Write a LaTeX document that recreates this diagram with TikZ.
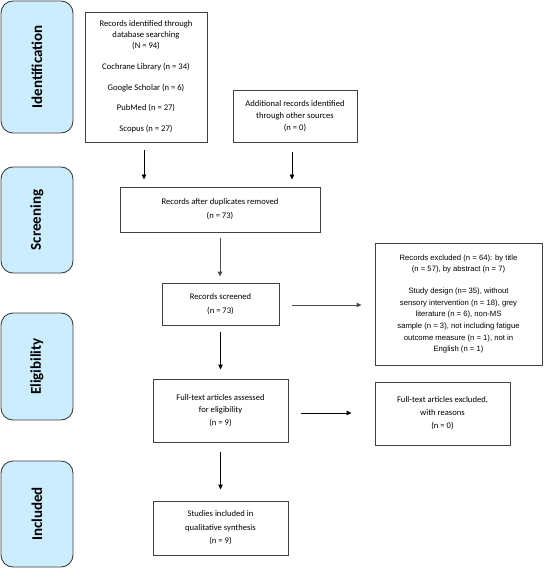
\documentclass[tikz,border=0pt]{standalone}
\usepackage{fontspec}
\setmainfont{Carlito}
\newfontfamily\arialfont{Liberation Sans}
\usetikzlibrary{arrows.meta}
\definecolor{phasefill}{RGB}{204,236,255}
\definecolor{boxline}{RGB}{64,64,64}
\tikzset{
  phase/.style={draw=boxline, line width=0.9pt, fill=phasefill, rounded corners=12pt,
    minimum width=72pt, inner sep=0pt, font=\fontsize{15}{16}\selectfont\bfseries},
  flowbox/.style={draw=boxline, line width=0.9pt, inner sep=0pt, align=center,
    font=\fontsize{8.6}{12.5}\selectfont},
  arr/.style={draw=black, line width=0.9pt, -{Triangle[length=5pt,width=4.5pt]}},
}
\begin{document}
\begin{tikzpicture}[x=1pt,y=-1pt]
\useasboundingbox (0,0) rectangle (544,569);
% phase labels
\node[phase, minimum height=132pt] (ident) at (37,67) {\rotatebox{90}{Identification}};
\node[phase, minimum height=106pt] (screen) at (37,220) {\rotatebox{90}{Screening}};
\node[phase, minimum height=107pt] (elig) at (37,366.5) {\rotatebox{90}{Eligibility}};
\node[phase, minimum height=106pt] (incl) at (37,514) {\rotatebox{90}{Included}};
% boxes
\node[flowbox, minimum width=122pt, minimum height=130pt,
  font=\fontsize{8.6}{11}\selectfont] (rec) at (146,77)
  {Records identified through\\database searching\\(N = 94)\\[10pt]
   Cochrane Library (n = 34)\\[10pt]Google Scholar (n = 6)\\[9pt]
   PubMed (n = 27)\\[10pt]Scopus (n = 27)};
\node[flowbox, minimum width=124pt, minimum height=52pt,
  font=\fontsize{8.6}{12}\selectfont] (add) at (295,116)
  {Additional records identified\\through other sources\\(n = 0)};
\node[flowbox, minimum width=200pt, minimum height=45pt,
  font=\fontsize{8.6}{14}\selectfont] (dup) at (220,209.5)
  {Records after duplicates removed\\(n = 73)};
\node[flowbox, minimum width=117pt, minimum height=42pt,
  font=\fontsize{8.6}{14}\selectfont] (scr) at (220.5,304)
  {Records screened\\(n = 73)};
\node[flowbox, minimum width=167pt, minimum height=122pt,
  font=\arialfont\fontsize{7.7}{11.7}\selectfont] (exc) at (458.5,304)
  {Records excluded (n = 64): by title\\(n = 57), by abstract (n = 7)\\[10pt]
   Study design (n= 35), without\\sensory intervention (n = 18), grey\\
   literature (n = 6), non-MS\\sample (n = 3), not including fatigue\\
   outcome measure (n = 1), not in\\English (n = 1)};
\node[flowbox, minimum width=135pt, minimum height=63pt] (full) at (220.5,410.5)
  {Full-text articles assessed\\for eligibility\\(n = 9)};
\node[flowbox, minimum width=135pt, minimum height=63pt,
  font=\fontsize{8.6}{13}\selectfont] (fexc) at (442.5,413.5)
  {Full-text articles excluded,\\with reasons\\(n = 0)};
\node[flowbox, minimum width=135pt, minimum height=54pt,
  font=\fontsize{8.6}{13.5}\selectfont] (stud) at (220.5,528)
  {Studies included in\\qualitative synthesis\\(n = 9)};
% connectors
\draw[arr, shorten <=8pt, shorten >=7pt] ([xshift=-2pt]rec.south) -- ([xshift=-2pt]rec.south |- dup.north);
\draw[arr, shorten <=10pt, shorten >=7pt] ([xshift=-3pt]add.south) -- ([xshift=-3pt]add.south |- dup.north);
\draw[arr, draw=black!70, shorten <=6pt, shorten >=6pt] (dup.south) -- (dup.south |- scr.north);
\draw[arr, draw=black!70, shorten <=13pt, shorten >=13pt] ([yshift=-1pt]scr.east) -- ([yshift=-1pt]scr.east -| exc.west);
\draw[arr, shorten <=7pt, shorten >=9pt] (scr.south) -- (scr.south |- full.north);
\draw[arr, shorten <=13pt, shorten >=23pt] ([yshift=-2.5pt]full.east) -- ([yshift=-2.5pt]full.east -| fexc.west);
\draw[arr, shorten <=10pt, shorten >=11pt] (full.south) -- (full.south |- stud.north);
\end{tikzpicture}
\end{document}
